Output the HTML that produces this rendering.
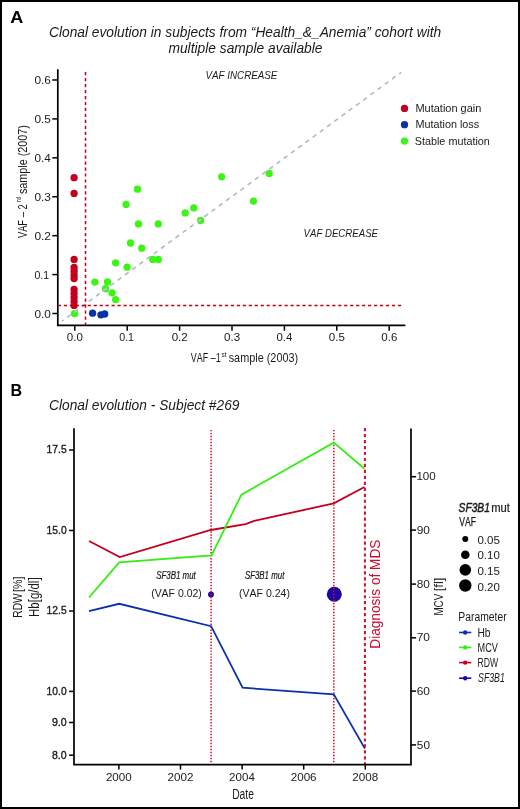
<!DOCTYPE html>
<html><head><meta charset="utf-8"><title>Clonal evolution</title>
<style>
html,body{margin:0;padding:0;background:#fff;}
body{width:520px;height:809px;overflow:hidden;}
svg{display:block;will-change:transform;font-family:"Liberation Sans",sans-serif;font-kerning:none;}
svg text{font-kerning:none;letter-spacing:0;}
</style></head><body>
<svg width="520" height="809" viewBox="0 0 520 809">
<rect x="0" y="0" width="520" height="809" fill="#fff"/>
<text x="10.15" y="23.10" font-size="16.20" font-weight="bold" font-style="normal" fill="#000" textLength="13.02" lengthAdjust="spacingAndGlyphs" >A</text>
<text x="49.04" y="36.80" font-size="13.80" font-weight="normal" font-style="italic" fill="#1a1a1a" textLength="392.19" lengthAdjust="spacingAndGlyphs" >Clonal evolution in subjects from “Health_&amp;_Anemia” cohort with</text>
<text x="168.47" y="52.90" font-size="13.80" font-weight="normal" font-style="italic" fill="#1a1a1a" textLength="154.04" lengthAdjust="spacingAndGlyphs" >multiple sample available</text>
<path d="M57.8 69.2 V325.4 H405.4" fill="none" stroke="#000" stroke-width="1.7"/>
<line x1="52.3" y1="313.50" x2="57.8" y2="313.50" stroke="#000" stroke-width="1.5"/>
<text x="34.44" y="317.70" font-size="11.50" font-weight="normal" font-style="normal" fill="#1a1a1a" textLength="16.42" lengthAdjust="spacingAndGlyphs" >0.0</text>
<line x1="74.80" y1="325.4" x2="74.80" y2="330.7" stroke="#000" stroke-width="1.5"/>
<text x="66.85" y="340.90" font-size="11.50" font-weight="normal" font-style="normal" fill="#1a1a1a" textLength="16.00" lengthAdjust="spacingAndGlyphs" >0.0</text>
<line x1="52.3" y1="274.58" x2="57.8" y2="274.58" stroke="#000" stroke-width="1.5"/>
<text x="34.49" y="278.78" font-size="11.50" font-weight="normal" font-style="normal" fill="#1a1a1a" textLength="14.62" lengthAdjust="spacingAndGlyphs" >0.1</text>
<line x1="127.20" y1="325.4" x2="127.20" y2="330.7" stroke="#000" stroke-width="1.5"/>
<text x="119.29" y="340.90" font-size="11.50" font-weight="normal" font-style="normal" fill="#1a1a1a" textLength="14.73" lengthAdjust="spacingAndGlyphs" >0.1</text>
<line x1="52.3" y1="235.66" x2="57.8" y2="235.66" stroke="#000" stroke-width="1.5"/>
<text x="34.43" y="239.86" font-size="11.50" font-weight="normal" font-style="normal" fill="#1a1a1a" textLength="16.56" lengthAdjust="spacingAndGlyphs" >0.2</text>
<line x1="179.60" y1="325.4" x2="179.60" y2="330.7" stroke="#000" stroke-width="1.5"/>
<text x="171.65" y="340.90" font-size="11.50" font-weight="normal" font-style="normal" fill="#1a1a1a" textLength="16.14" lengthAdjust="spacingAndGlyphs" >0.2</text>
<line x1="52.3" y1="196.74" x2="57.8" y2="196.74" stroke="#000" stroke-width="1.5"/>
<text x="34.44" y="200.94" font-size="11.50" font-weight="normal" font-style="normal" fill="#1a1a1a" textLength="16.48" lengthAdjust="spacingAndGlyphs" >0.3</text>
<line x1="232.00" y1="325.4" x2="232.00" y2="330.7" stroke="#000" stroke-width="1.5"/>
<text x="224.05" y="340.90" font-size="11.50" font-weight="normal" font-style="normal" fill="#1a1a1a" textLength="16.06" lengthAdjust="spacingAndGlyphs" >0.3</text>
<line x1="52.3" y1="157.82" x2="57.8" y2="157.82" stroke="#000" stroke-width="1.5"/>
<text x="34.44" y="162.02" font-size="11.50" font-weight="normal" font-style="normal" fill="#1a1a1a" textLength="16.30" lengthAdjust="spacingAndGlyphs" >0.4</text>
<line x1="284.40" y1="325.4" x2="284.40" y2="330.7" stroke="#000" stroke-width="1.5"/>
<text x="276.45" y="340.90" font-size="11.50" font-weight="normal" font-style="normal" fill="#1a1a1a" textLength="15.88" lengthAdjust="spacingAndGlyphs" >0.4</text>
<line x1="52.3" y1="118.90" x2="57.8" y2="118.90" stroke="#000" stroke-width="1.5"/>
<text x="34.44" y="123.10" font-size="11.50" font-weight="normal" font-style="normal" fill="#1a1a1a" textLength="16.46" lengthAdjust="spacingAndGlyphs" >0.5</text>
<line x1="336.80" y1="325.4" x2="336.80" y2="330.7" stroke="#000" stroke-width="1.5"/>
<text x="328.85" y="340.90" font-size="11.50" font-weight="normal" font-style="normal" fill="#1a1a1a" textLength="16.03" lengthAdjust="spacingAndGlyphs" >0.5</text>
<line x1="52.3" y1="79.98" x2="57.8" y2="79.98" stroke="#000" stroke-width="1.5"/>
<text x="34.44" y="84.48" font-size="11.50" font-weight="normal" font-style="normal" fill="#1a1a1a" textLength="16.48" lengthAdjust="spacingAndGlyphs" >0.6</text>
<line x1="389.20" y1="325.4" x2="389.20" y2="330.7" stroke="#000" stroke-width="1.5"/>
<text x="381.25" y="340.90" font-size="11.50" font-weight="normal" font-style="normal" fill="#1a1a1a" textLength="16.06" lengthAdjust="spacingAndGlyphs" >0.6</text>
<circle cx="74.1" cy="177.7" r="3.65" fill="#c4001e"/>
<circle cx="74.1" cy="193.4" r="3.65" fill="#c4001e"/>
<circle cx="74.1" cy="259.4" r="3.65" fill="#c4001e"/>
<circle cx="74.1" cy="267.5" r="3.65" fill="#c4001e"/>
<circle cx="74.1" cy="271.2" r="3.65" fill="#c4001e"/>
<circle cx="74.1" cy="274.9" r="3.65" fill="#c4001e"/>
<circle cx="74.1" cy="278.5" r="3.65" fill="#c4001e"/>
<circle cx="74.1" cy="289.5" r="3.65" fill="#c4001e"/>
<circle cx="74.1" cy="293.5" r="3.65" fill="#c4001e"/>
<circle cx="74.1" cy="297.5" r="3.65" fill="#c4001e"/>
<circle cx="74.1" cy="301.5" r="3.65" fill="#c4001e"/>
<circle cx="74.1" cy="305.4" r="3.65" fill="#c4001e"/>
<circle cx="74.6" cy="313.5" r="3.65" fill="#3cf514"/>
<circle cx="94.8" cy="282.1" r="3.65" fill="#3cf514"/>
<circle cx="107.5" cy="281.9" r="3.65" fill="#3cf514"/>
<circle cx="105.5" cy="288.7" r="3.65" fill="#3cf514"/>
<circle cx="112.1" cy="292.8" r="3.65" fill="#3cf514"/>
<circle cx="115.6" cy="299.6" r="3.65" fill="#3cf514"/>
<circle cx="115.6" cy="262.8" r="3.65" fill="#3cf514"/>
<circle cx="137.5" cy="189.2" r="3.65" fill="#3cf514"/>
<circle cx="126.1" cy="204.4" r="3.65" fill="#3cf514"/>
<circle cx="138.5" cy="223.9" r="3.65" fill="#3cf514"/>
<circle cx="158.3" cy="223.9" r="3.65" fill="#3cf514"/>
<circle cx="130.5" cy="243.0" r="3.65" fill="#3cf514"/>
<circle cx="141.8" cy="248.2" r="3.65" fill="#3cf514"/>
<circle cx="152.7" cy="259.5" r="3.65" fill="#3cf514"/>
<circle cx="158.3" cy="259.5" r="3.65" fill="#3cf514"/>
<circle cx="127.1" cy="267.2" r="3.65" fill="#3cf514"/>
<circle cx="185.2" cy="212.9" r="3.65" fill="#3cf514"/>
<circle cx="193.8" cy="207.9" r="3.65" fill="#3cf514"/>
<circle cx="200.5" cy="220.5" r="3.65" fill="#3cf514"/>
<circle cx="221.7" cy="176.8" r="3.65" fill="#3cf514"/>
<circle cx="253.5" cy="201.1" r="3.65" fill="#3cf514"/>
<circle cx="269.2" cy="173.4" r="3.65" fill="#3cf514"/>
<circle cx="92.6" cy="313.2" r="3.65" fill="#0a32a8"/>
<circle cx="100.9" cy="314.8" r="3.65" fill="#0a32a8"/>
<circle cx="104.7" cy="314.0" r="3.65" fill="#0a32a8"/>
<line x1="401.2" y1="72.4" x2="61.9" y2="321.2" stroke="#a9bcc6" stroke-width="1.6" stroke-dasharray="4.5 4.453" stroke-dashoffset="2.13"/>
<clipPath id="gc"><circle cx="74.6" cy="313.5" r="3.35"/><circle cx="94.8" cy="282.1" r="3.35"/><circle cx="107.5" cy="281.9" r="3.35"/><circle cx="105.5" cy="288.7" r="3.35"/><circle cx="112.1" cy="292.8" r="3.35"/><circle cx="115.6" cy="299.6" r="3.35"/><circle cx="115.6" cy="262.8" r="3.35"/><circle cx="137.5" cy="189.2" r="3.35"/><circle cx="126.1" cy="204.4" r="3.35"/><circle cx="138.5" cy="223.9" r="3.35"/><circle cx="158.3" cy="223.9" r="3.35"/><circle cx="130.5" cy="243.0" r="3.35"/><circle cx="141.8" cy="248.2" r="3.35"/><circle cx="152.7" cy="259.5" r="3.35"/><circle cx="158.3" cy="259.5" r="3.35"/><circle cx="127.1" cy="267.2" r="3.35"/><circle cx="185.2" cy="212.9" r="3.35"/><circle cx="193.8" cy="207.9" r="3.35"/><circle cx="200.5" cy="220.5" r="3.35"/><circle cx="221.7" cy="176.8" r="3.35"/><circle cx="253.5" cy="201.1" r="3.35"/><circle cx="269.2" cy="173.4" r="3.35"/></clipPath>
<line x1="401.2" y1="72.4" x2="61.9" y2="321.2" stroke="#c8b8f0" stroke-width="1.6" stroke-dasharray="4.5 4.453" stroke-dashoffset="2.13" clip-path="url(#gc)"/>
<line x1="85.5" y1="72.1" x2="85.5" y2="325" stroke="#be0018" stroke-width="1.5" stroke-dasharray="3.2 2.76"/>
<line x1="401.06" y1="305.55" x2="57.8" y2="305.55" stroke="#be0018" stroke-width="1.5" stroke-dasharray="3.2 2.765"/>
<text x="205.45" y="79.00" font-size="10.20" font-weight="normal" font-style="italic" fill="#1a1a1a" textLength="71.96" lengthAdjust="spacingAndGlyphs" >VAF INCREASE</text>
<text x="303.57" y="236.80" font-size="10.40" font-weight="normal" font-style="italic" fill="#1a1a1a" textLength="74.44" lengthAdjust="spacingAndGlyphs" >VAF DECREASE</text>
<circle cx="404.5" cy="108.4" r="3.65" fill="#c4001e"/>
<text x="415.40" y="111.80" font-size="10.80" font-weight="normal" font-style="normal" fill="#1a1a1a" textLength="66.02" lengthAdjust="spacingAndGlyphs" >Mutation gain</text>
<circle cx="404.5" cy="124.7" r="3.65" fill="#0a32a8"/>
<text x="415.41" y="128.10" font-size="10.80" font-weight="normal" font-style="normal" fill="#1a1a1a" textLength="63.78" lengthAdjust="spacingAndGlyphs" >Mutation loss</text>
<circle cx="404.5" cy="141.1" r="3.65" fill="#3cf514"/>
<text x="414.71" y="145.30" font-size="10.80" font-weight="normal" font-style="normal" fill="#1a1a1a" textLength="75.19" lengthAdjust="spacingAndGlyphs" >Stable mutation</text>
<text transform="translate(26.70,238.00) rotate(-90)" x="-0.04" y="0" font-size="13.30" font-weight="normal" font-style="normal" fill="#1a1a1a" textLength="33.61" lengthAdjust="spacingAndGlyphs" >VAF – 2</text>
<text transform="translate(21.30,202.00) rotate(-90)" x="-0.35" y="0" font-size="8.00" font-weight="normal" font-style="normal" fill="#1a1a1a" textLength="5.89" lengthAdjust="spacingAndGlyphs" >nd</text>
<text transform="translate(26.70,193.80) rotate(-90)" x="-0.30" y="0" font-size="13.30" font-weight="normal" font-style="normal" fill="#1a1a1a" textLength="68.87" lengthAdjust="spacingAndGlyphs" >sample (2007)</text>
<text x="190.86" y="361.50" font-size="13.00" font-weight="normal" font-style="normal" fill="#1a1a1a" textLength="29.78" lengthAdjust="spacingAndGlyphs" >VAF –1</text>
<text x="221.62" y="357.30" font-size="7.40" font-weight="normal" font-style="normal" fill="#1a1a1a" textLength="5.03" lengthAdjust="spacingAndGlyphs" >st</text>
<text x="228.70" y="361.50" font-size="13.00" font-weight="normal" font-style="normal" fill="#1a1a1a" textLength="69.48" lengthAdjust="spacingAndGlyphs" >sample (2003)</text>
<text x="10.43" y="395.80" font-size="16.20" font-weight="bold" font-style="normal" fill="#000" textLength="11.60" lengthAdjust="spacingAndGlyphs" >B</text>
<text x="49.04" y="409.80" font-size="13.80" font-weight="normal" font-style="italic" fill="#1a1a1a" textLength="190.44" lengthAdjust="spacingAndGlyphs" >Clonal evolution - Subject #269</text>
<circle cx="211" cy="594.5" r="2.95" fill="#1a08a0"/>
<circle cx="334.3" cy="594.3" r="7.5" fill="#1a08a0"/>
<line x1="211.1" y1="429.9" x2="211.1" y2="763" stroke="#c8102e" stroke-width="1.5" stroke-dasharray="1.45 1.53"/>
<line x1="333.8" y1="429.9" x2="333.8" y2="763" stroke="#c8102e" stroke-width="1.5" stroke-dasharray="1.45 1.53"/>
<path d="M89,611.1 L119.2,603.8 L211.1,626.2 L242.6,687.7 L333.8,694.4 L364.9,748.6" fill="none" stroke="#0a30b0" stroke-width="1.8" stroke-linejoin="miter"/>
<path d="M89,541 L119.8,557.1 L210.8,530 L245.6,524.2 L254.2,520.8 L333.8,503.4 L364.5,487" fill="none" stroke="#c4001e" stroke-width="1.8" stroke-linejoin="miter"/>
<path d="M89,597.5 L119.2,562.3 L211.5,555.4 L241.5,494.6 L333.8,442.6 L364.5,468.7" fill="none" stroke="#33ee11" stroke-width="1.8" stroke-linejoin="miter"/>
<line x1="364.9" y1="428.05" x2="364.9" y2="764" stroke="#c8102e" stroke-width="2" stroke-dasharray="3.2 2.768"/>
<path d="M74 428.2 V764.7 H411 V428.4" fill="none" stroke="#000" stroke-width="1.7"/>
<line x1="69.1" y1="450.0" x2="74" y2="450.0" stroke="#000" stroke-width="1.5"/>
<text x="46.62" y="453.30" font-size="10.80" font-weight="normal" font-style="normal" fill="#1a1a1a" textLength="20.02" lengthAdjust="spacingAndGlyphs" stroke="#1a1a1a" stroke-width="0.35">17.5</text>
<line x1="69.1" y1="530.5" x2="74" y2="530.5" stroke="#000" stroke-width="1.5"/>
<text x="46.62" y="533.80" font-size="10.80" font-weight="normal" font-style="normal" fill="#1a1a1a" textLength="19.98" lengthAdjust="spacingAndGlyphs" stroke="#1a1a1a" stroke-width="0.35">15.0</text>
<line x1="69.1" y1="611.0" x2="74" y2="611.0" stroke="#000" stroke-width="1.5"/>
<text x="46.62" y="614.30" font-size="10.80" font-weight="normal" font-style="normal" fill="#1a1a1a" textLength="20.02" lengthAdjust="spacingAndGlyphs" stroke="#1a1a1a" stroke-width="0.35">12.5</text>
<line x1="69.1" y1="691.4" x2="74" y2="691.4" stroke="#000" stroke-width="1.5"/>
<text x="46.62" y="694.70" font-size="10.80" font-weight="normal" font-style="normal" fill="#1a1a1a" textLength="19.98" lengthAdjust="spacingAndGlyphs" stroke="#1a1a1a" stroke-width="0.35">10.0</text>
<line x1="69.1" y1="722.5" x2="74" y2="722.5" stroke="#000" stroke-width="1.5"/>
<text x="51.90" y="725.80" font-size="10.80" font-weight="normal" font-style="normal" fill="#1a1a1a" textLength="14.71" lengthAdjust="spacingAndGlyphs" stroke="#1a1a1a" stroke-width="0.35">9.0</text>
<line x1="69.1" y1="755.2" x2="74" y2="755.2" stroke="#000" stroke-width="1.5"/>
<text x="51.94" y="758.50" font-size="10.80" font-weight="normal" font-style="normal" fill="#1a1a1a" textLength="14.67" lengthAdjust="spacingAndGlyphs" stroke="#1a1a1a" stroke-width="0.35">8.0</text>
<line x1="411" y1="476.7" x2="416.1" y2="476.7" stroke="#000" stroke-width="1.5"/>
<text x="416.42" y="480.30" font-size="10.80" font-weight="normal" font-style="normal" fill="#1a1a1a" textLength="19.34" lengthAdjust="spacingAndGlyphs" >100</text>
<line x1="411" y1="530.1" x2="416.1" y2="530.1" stroke="#000" stroke-width="1.5"/>
<text x="416.74" y="533.70" font-size="10.80" font-weight="normal" font-style="normal" fill="#1a1a1a" textLength="13.22" lengthAdjust="spacingAndGlyphs" >90</text>
<line x1="411" y1="584.1" x2="416.1" y2="584.1" stroke="#000" stroke-width="1.5"/>
<text x="416.79" y="587.70" font-size="10.80" font-weight="normal" font-style="normal" fill="#1a1a1a" textLength="13.18" lengthAdjust="spacingAndGlyphs" >80</text>
<line x1="411" y1="637.8" x2="416.1" y2="637.8" stroke="#000" stroke-width="1.5"/>
<text x="416.69" y="641.40" font-size="10.80" font-weight="normal" font-style="normal" fill="#1a1a1a" textLength="13.28" lengthAdjust="spacingAndGlyphs" >70</text>
<line x1="411" y1="691.1" x2="416.1" y2="691.1" stroke="#000" stroke-width="1.5"/>
<text x="416.69" y="694.70" font-size="10.80" font-weight="normal" font-style="normal" fill="#1a1a1a" textLength="13.27" lengthAdjust="spacingAndGlyphs" >60</text>
<line x1="411" y1="744.9" x2="416.1" y2="744.9" stroke="#000" stroke-width="1.5"/>
<text x="416.83" y="748.50" font-size="10.80" font-weight="normal" font-style="normal" fill="#1a1a1a" textLength="13.13" lengthAdjust="spacingAndGlyphs" >50</text>
<line x1="118.90" y1="764.7" x2="118.90" y2="769.6" stroke="#000" stroke-width="1.5"/>
<text x="105.92" y="781.00" font-size="10.80" font-weight="normal" font-style="normal" fill="#1a1a1a" textLength="25.84" lengthAdjust="spacingAndGlyphs" >2000</text>
<line x1="180.50" y1="764.7" x2="180.50" y2="769.6" stroke="#000" stroke-width="1.5"/>
<text x="167.51" y="781.00" font-size="10.80" font-weight="normal" font-style="normal" fill="#1a1a1a" textLength="25.97" lengthAdjust="spacingAndGlyphs" >2002</text>
<line x1="242.10" y1="764.7" x2="242.10" y2="769.6" stroke="#000" stroke-width="1.5"/>
<text x="229.12" y="781.00" font-size="10.80" font-weight="normal" font-style="normal" fill="#1a1a1a" textLength="25.72" lengthAdjust="spacingAndGlyphs" >2004</text>
<line x1="303.70" y1="764.7" x2="303.70" y2="769.6" stroke="#000" stroke-width="1.5"/>
<text x="290.71" y="781.00" font-size="10.80" font-weight="normal" font-style="normal" fill="#1a1a1a" textLength="25.90" lengthAdjust="spacingAndGlyphs" >2006</text>
<line x1="365.30" y1="764.7" x2="365.30" y2="769.6" stroke="#000" stroke-width="1.5"/>
<text x="352.31" y="781.00" font-size="10.80" font-weight="normal" font-style="normal" fill="#1a1a1a" textLength="25.89" lengthAdjust="spacingAndGlyphs" >2008</text>
<text x="232.15" y="799.00" font-size="14.00" font-weight="normal" font-style="normal" fill="#1a1a1a" textLength="21.81" lengthAdjust="spacingAndGlyphs" >Date</text>
<text transform="translate(22.00,616.80) rotate(-90)" x="-0.84" y="0" font-size="13.70" font-weight="normal" font-style="normal" fill="#1a1a1a" textLength="24.37" lengthAdjust="spacingAndGlyphs" >RDW</text>
<text transform="translate(22.00,591.20) rotate(-90)" x="-0.76" y="0" font-size="13.20" font-weight="normal" font-style="normal" fill="#1a1a1a" textLength="15.42" lengthAdjust="spacingAndGlyphs" >[%]</text>
<text transform="translate(38.70,616.00) rotate(-90)" x="-0.94" y="0" font-size="14.20" font-weight="normal" font-style="normal" fill="#1a1a1a" textLength="39.56" lengthAdjust="spacingAndGlyphs" >Hb[g/dl]</text>
<text transform="translate(442.80,614.80) rotate(-90)" x="-0.81" y="0" font-size="13.40" font-weight="normal" font-style="normal" fill="#1a1a1a" textLength="21.85" lengthAdjust="spacingAndGlyphs" >MCV</text>
<text transform="translate(442.80,590.40) rotate(-90)" x="-0.93" y="0" font-size="13.40" font-weight="normal" font-style="normal" fill="#1a1a1a" textLength="13.76" lengthAdjust="spacingAndGlyphs" >[fl]</text>
<text transform="translate(379.60,647.60) rotate(-90)" x="-1.12" y="0" font-size="14.10" font-weight="normal" font-style="normal" fill="#c8102e" textLength="109.04" lengthAdjust="spacingAndGlyphs" >Diagnosis of MDS</text>
<text x="156.18" y="578.90" font-size="10.40" font-weight="normal" font-style="italic" fill="#1a1a1a" textLength="39.65" lengthAdjust="spacingAndGlyphs" stroke="#1a1a1a" stroke-width="0.2">SF3B1 mut</text>
<text x="151.15" y="596.60" font-size="10.40" font-weight="normal" font-style="normal" fill="#1a1a1a" textLength="50.70" lengthAdjust="spacingAndGlyphs" >(VAF 0.02)</text>
<text x="244.88" y="578.70" font-size="10.40" font-weight="normal" font-style="italic" fill="#1a1a1a" textLength="39.45" lengthAdjust="spacingAndGlyphs" stroke="#1a1a1a" stroke-width="0.2">SF3B1 mut</text>
<text x="239.05" y="596.60" font-size="10.40" font-weight="normal" font-style="normal" fill="#1a1a1a" textLength="50.91" lengthAdjust="spacingAndGlyphs" >(VAF 0.24)</text>
<text x="458.61" y="511.80" font-size="12.00" font-weight="normal" font-style="italic" fill="#1a1a1a" textLength="31.25" lengthAdjust="spacingAndGlyphs" stroke="#1a1a1a" stroke-width="0.45">SF3B1</text>
<text x="491.25" y="511.80" font-size="12.00" font-weight="normal" font-style="normal" fill="#1a1a1a" textLength="18.73" lengthAdjust="spacingAndGlyphs" stroke="#1a1a1a" stroke-width="0.2">mut</text>
<text x="459.16" y="525.50" font-size="12.60" font-weight="normal" font-style="normal" fill="#1a1a1a" textLength="16.78" lengthAdjust="spacingAndGlyphs" stroke="#1a1a1a" stroke-width="0.25">VAF</text>
<circle cx="465.3" cy="539.1" r="3.0" fill="#000"/>
<text x="477.45" y="543.90" font-size="10.60" font-weight="normal" font-style="normal" fill="#1a1a1a" textLength="22.43" lengthAdjust="spacingAndGlyphs" >0.05</text>
<circle cx="465.3" cy="554.8" r="4.3" fill="#000"/>
<text x="477.45" y="559.10" font-size="10.60" font-weight="normal" font-style="normal" fill="#1a1a1a" textLength="22.40" lengthAdjust="spacingAndGlyphs" >0.10</text>
<circle cx="465.3" cy="569.9" r="5.8" fill="#000"/>
<text x="477.45" y="574.80" font-size="10.60" font-weight="normal" font-style="normal" fill="#1a1a1a" textLength="22.43" lengthAdjust="spacingAndGlyphs" >0.15</text>
<circle cx="465.3" cy="585.5" r="6.2" fill="#000"/>
<text x="477.45" y="590.60" font-size="10.60" font-weight="normal" font-style="normal" fill="#1a1a1a" textLength="22.40" lengthAdjust="spacingAndGlyphs" >0.20</text>
<text x="458.35" y="620.50" font-size="12.30" font-weight="normal" font-style="normal" fill="#1a1a1a" textLength="48.32" lengthAdjust="spacingAndGlyphs" >Parameter</text>
<line x1="459.1" y1="632.5" x2="471.3" y2="632.5" stroke="#0a30b0" stroke-width="1.6"/>
<circle cx="465.2" cy="632.5" r="2.2" fill="#0a30b0"/>
<text x="477.46" y="636.60" font-size="12.00" font-weight="normal" font-style="normal" fill="#1a1a1a" textLength="13.07" lengthAdjust="spacingAndGlyphs" >Hb</text>
<line x1="459.1" y1="647.4" x2="471.3" y2="647.4" stroke="#33ee11" stroke-width="1.6"/>
<circle cx="465.2" cy="647.4" r="2.2" fill="#33ee11"/>
<text x="477.55" y="651.50" font-size="12.00" font-weight="normal" font-style="normal" fill="#1a1a1a" textLength="20.29" lengthAdjust="spacingAndGlyphs" >MCV</text>
<line x1="459.1" y1="662.6" x2="471.3" y2="662.6" stroke="#c4001e" stroke-width="1.6"/>
<circle cx="465.2" cy="662.6" r="2.2" fill="#c4001e"/>
<text x="477.59" y="666.70" font-size="12.00" font-weight="normal" font-style="normal" fill="#1a1a1a" textLength="20.64" lengthAdjust="spacingAndGlyphs" >RDW</text>
<line x1="459.1" y1="678.2" x2="471.3" y2="678.2" stroke="#1a08a0" stroke-width="1.6"/>
<circle cx="465.2" cy="678.2" r="2.2" fill="#1a08a0"/>
<text x="478.05" y="682.30" font-size="12.00" font-weight="normal" font-style="italic" fill="#1a1a1a" textLength="26.79" lengthAdjust="spacingAndGlyphs" >SF3B1</text>
<rect x="1" y="1" width="518" height="807" fill="none" stroke="#000" stroke-width="2"/>
</svg>
</body></html>
